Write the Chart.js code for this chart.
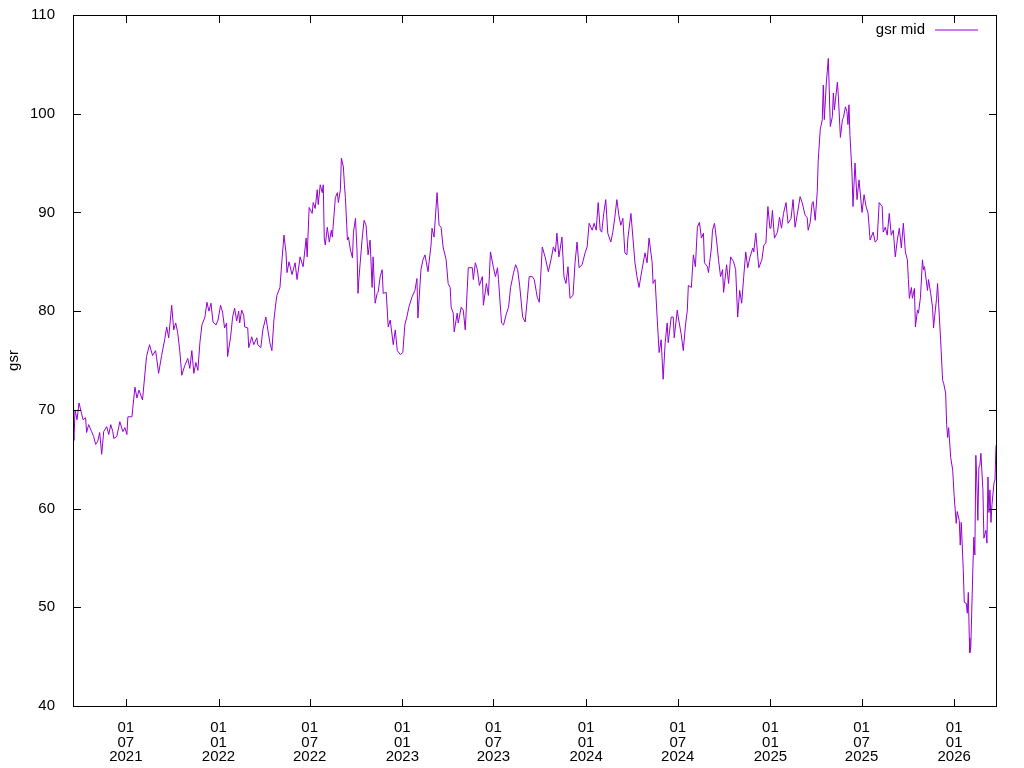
<!DOCTYPE html>
<html>
<head>
<meta charset="utf-8">
<script src="https://cdn.jsdelivr.net/npm/chart.js@4.4.1/dist/chart.umd.min.js"></script>
<style>
  html, body { margin: 0; padding: 0; background: #fff; }
  canvas { display: block; }
</style>
</head>
<body>
<canvas id="gsrChart" width="1024" height="768"></canvas>
<script>
// --- data ---
const dates = [
  '2021-03-18','2021-03-20','2021-03-22','2021-03-26','2021-03-30','2021-04-07','2021-04-12','2021-04-14','2021-04-18','2021-04-24','2021-04-28',
  '2021-05-02','2021-05-06','2021-05-10','2021-05-14','2021-05-18','2021-05-24','2021-05-28','2021-06-01','2021-06-05','2021-06-07','2021-06-13',
  '2021-06-19','2021-06-25','2021-06-29','2021-07-03','2021-07-05','2021-07-13','2021-07-19','2021-07-23','2021-07-27','2021-08-03','2021-08-11',
  '2021-08-17','2021-08-23','2021-08-29','2021-08-31','2021-09-04','2021-09-10','2021-09-16','2021-09-20','2021-09-24','2021-09-30','2021-10-04',
  '2021-10-08','2021-10-12','2021-10-16','2021-10-20','2021-10-26','2021-11-01','2021-11-05','2021-11-09','2021-11-13','2021-11-17','2021-11-21',
  '2021-11-25','2021-11-29','2021-12-05','2021-12-09','2021-12-13','2021-12-17','2021-12-21','2021-12-27','2021-12-31',
  '2022-01-05','2022-01-09','2022-01-13','2022-01-17','2022-01-19','2022-01-25','2022-01-29','2022-02-02','2022-02-06','2022-02-10','2022-02-12',
  '2022-02-16','2022-02-20','2022-02-22','2022-02-28','2022-03-02','2022-03-08','2022-03-12','2022-03-18','2022-03-20','2022-03-26','2022-03-30',
  '2022-04-05','2022-04-09','2022-04-13','2022-04-17','2022-04-21','2022-04-25','2022-04-27','2022-05-03','2022-05-07','2022-05-11','2022-05-15',
  '2022-05-17','2022-05-21','2022-05-27','2022-06-02','2022-06-06','2022-06-12','2022-06-18','2022-06-24','2022-06-26','2022-06-30','2022-07-06',
  '2022-07-08','2022-07-12','2022-07-16','2022-07-18','2022-07-22','2022-07-26','2022-07-28','2022-07-30','2022-08-01','2022-08-05','2022-08-09',
  '2022-08-13','2022-08-15','2022-08-21','2022-08-25','2022-08-27','2022-08-31','2022-09-02','2022-09-06','2022-09-08','2022-09-10','2022-09-14',
  '2022-09-16','2022-09-20','2022-09-24','2022-09-26','2022-09-30','2022-10-03','2022-10-05','2022-10-07','2022-10-13','2022-10-17','2022-10-21',
  '2022-10-25','2022-10-29','2022-11-02','2022-11-04','2022-11-08','2022-11-12','2022-11-14','2022-11-18','2022-11-22','2022-11-24','2022-11-30',
  '2022-12-04','2022-12-08','2022-12-14','2022-12-18','2022-12-22','2022-12-28',
  '2023-01-02','2023-01-06','2023-01-10','2023-01-14','2023-01-20','2023-01-26','2023-01-30','2023-02-01','2023-02-07','2023-02-11','2023-02-15',
  '2023-02-21','2023-02-27','2023-03-01','2023-03-05','2023-03-11','2023-03-15','2023-03-19','2023-03-23','2023-03-29','2023-04-02','2023-04-06',
  '2023-04-08','2023-04-12','2023-04-14','2023-04-20','2023-04-22','2023-04-28','2023-05-02','2023-05-06','2023-05-12','2023-05-20','2023-05-22',
  '2023-05-26','2023-05-30','2023-06-03','2023-06-09','2023-06-11','2023-06-17','2023-06-21','2023-06-25','2023-07-01','2023-07-05','2023-07-09',
  '2023-07-11','2023-07-17','2023-07-21','2023-07-27','2023-07-31','2023-08-04','2023-08-10','2023-08-14','2023-08-18','2023-08-22','2023-08-28',
  '2023-09-02','2023-09-06','2023-09-10','2023-09-16','2023-09-20','2023-09-24','2023-09-26','2023-09-30','2023-10-06','2023-10-12','2023-10-18',
  '2023-10-24','2023-10-28','2023-11-01','2023-11-04','2023-11-08','2023-11-14','2023-11-18','2023-11-22','2023-11-26','2023-11-30','2023-12-06',
  '2023-12-10','2023-12-14','2023-12-18','2023-12-24','2023-12-30',
  '2024-01-03','2024-01-07','2024-01-13','2024-01-17','2024-01-21','2024-01-25','2024-01-29','2024-02-01','2024-02-05','2024-02-09','2024-02-13',
  '2024-02-19','2024-02-23','2024-02-27','2024-03-02','2024-03-06','2024-03-10','2024-03-14','2024-03-18','2024-03-22','2024-03-24','2024-03-30',
  '2024-04-03','2024-04-07','2024-04-11','2024-04-15','2024-04-21','2024-04-27','2024-05-01','2024-05-05','2024-05-11','2024-05-13','2024-05-17',
  '2024-05-21','2024-05-25','2024-05-29','2024-06-02','2024-06-06','2024-06-10','2024-06-12','2024-06-18','2024-06-22','2024-06-24','2024-06-30',
  '2024-07-02','2024-07-08','2024-07-12','2024-07-16','2024-07-20','2024-07-22','2024-07-28','2024-08-01','2024-08-05','2024-08-09','2024-08-13',
  '2024-08-17','2024-08-21','2024-08-23','2024-08-29','2024-08-31','2024-09-06','2024-09-08','2024-09-12','2024-09-16','2024-09-20','2024-09-24',
  '2024-09-28','2024-09-30','2024-10-06','2024-10-10','2024-10-14','2024-10-20','2024-10-24','2024-10-28','2024-11-01','2024-11-05','2024-11-09',
  '2024-11-13','2024-11-17','2024-11-21','2024-11-27','2024-11-29','2024-12-03','2024-12-07','2024-12-09','2024-12-15','2024-12-19','2024-12-23',
  '2024-12-27','2024-12-31',
  '2025-01-02','2025-01-05','2025-01-09','2025-01-15','2025-01-19','2025-01-23','2025-01-27','2025-02-01','2025-02-05','2025-02-11','2025-02-15',
  '2025-02-19','2025-02-23','2025-03-01','2025-03-05','2025-03-11','2025-03-15','2025-03-17','2025-03-21','2025-03-25','2025-03-27','2025-03-31',
  '2025-04-04','2025-04-06','2025-04-10','2025-04-14','2025-04-16','2025-04-18','2025-04-22','2025-04-26','2025-04-30','2025-05-04','2025-05-06',
  '2025-05-08','2025-05-14','2025-05-16','2025-05-20','2025-05-24','2025-05-26','2025-05-30','2025-06-02','2025-06-04','2025-06-06','2025-06-08',
  '2025-06-12','2025-06-14','2025-06-18','2025-06-22','2025-06-26','2025-07-02','2025-07-06','2025-07-10','2025-07-14','2025-07-18','2025-07-24',
  '2025-07-28','2025-08-01','2025-08-05','2025-08-11','2025-08-13','2025-08-17','2025-08-21','2025-08-25','2025-08-29','2025-09-02','2025-09-06',
  '2025-09-10','2025-09-14','2025-09-18','2025-09-22','2025-09-26','2025-09-30','2025-10-02','2025-10-04','2025-10-08','2025-10-10','2025-10-14',
  '2025-10-16','2025-10-20','2025-10-22','2025-10-26','2025-10-30','2025-11-01','2025-11-03','2025-11-09','2025-11-11','2025-11-15','2025-11-19',
  '2025-11-21','2025-11-23','2025-11-27','2025-11-29','2025-12-01','2025-12-05','2025-12-09','2025-12-11','2025-12-15','2025-12-17','2025-12-19',
  '2025-12-21','2025-12-25','2025-12-29',
  '2026-01-01','2026-01-05','2026-01-07','2026-01-11','2026-01-13','2026-01-15','2026-01-19','2026-01-21','2026-01-25','2026-01-27','2026-01-29',
  '2026-01-31','2026-02-01','2026-02-03','2026-02-07','2026-02-09','2026-02-11','2026-02-13','2026-02-15','2026-02-17','2026-02-19','2026-02-21',
  '2026-02-23','2026-02-27','2026-03-01','2026-03-05','2026-03-07','2026-03-09','2026-03-11','2026-03-13','2026-03-15','2026-03-17','2026-03-21',
  '2026-03-23','2026-03-25'
];

const gsrMid = [
  68.2,66.9,70.0,69.0,70.7,69.0,69.2,67.7,68.5,67.8,67.3,
  66.5,66.8,67.7,65.5,67.8,68.3,67.5,68.5,67.8,67.1,67.3,
  68.8,67.8,68.2,67.5,69.3,69.3,72.3,71.2,72.0,71.0,75.4,
  76.6,75.5,76.0,75.3,73.7,75.5,77.1,78.4,77.3,80.6,78.1,
  78.8,77.8,76.0,73.5,74.5,75.2,74.2,76.0,73.7,74.8,74.0,
  76.8,78.6,79.4,80.9,80.0,80.8,78.9,78.6,79.1,
  80.6,79.9,78.3,78.8,75.4,77.4,79.4,80.3,79.0,80.0,78.8,
  80.1,79.6,78.4,78.3,76.3,77.4,76.6,77.3,76.6,76.3,78.1,
  79.4,78.1,76.8,76.0,79.1,80.9,81.6,82.4,85.2,87.7,85.9,
  83.9,85.0,83.7,84.9,83.2,85.5,84.5,87.4,85.5,90.5,89.9,
  91.0,90.4,92.3,90.8,92.8,92.0,92.8,87.4,86.7,88.5,87.0,
  88.2,87.5,91.5,92.0,91.0,92.3,95.5,94.6,92.8,91.5,87.2,
  87.5,86.2,85.4,88.0,89.4,86.2,81.8,83.4,87.2,89.2,88.7,
  85.7,87.2,82.4,85.5,80.8,81.8,81.9,83.5,84.2,81.8,81.9,
  78.4,79.1,76.6,78.1,76.0,75.6,
  75.8,78.6,79.4,80.4,81.4,82.1,83.3,79.3,84.2,85.2,85.7,
  84.0,86.7,88.4,87.5,92.0,88.7,88.5,86.5,85.2,82.8,82.4,
  80.4,79.8,77.9,79.8,78.8,80.4,80.1,78.1,84.4,84.4,83.2,
  84.9,84.2,82.6,83.5,80.6,82.8,81.6,86.0,84.4,83.5,84.4,
  83.2,78.8,78.6,79.8,80.4,82.4,83.9,84.7,84.2,82.6,79.4,
  78.9,81.1,83.5,83.5,83.2,82.0,81.4,80.9,86.5,85.4,84.0,
  85.4,86.5,86.0,87.9,85.5,87.5,83.5,82.8,84.5,81.3,81.6,
  84.9,87.0,84.4,84.7,85.9,
  86.5,88.9,88.2,88.9,88.2,91.0,88.2,88.0,89.9,91.3,87.9,
  87.0,88.0,89.5,91.3,89.7,88.7,89.4,85.9,85.7,87.4,89.9,
  87.4,84.9,83.5,82.4,84.2,85.9,84.9,87.4,85.0,82.8,83.2,
  79.4,75.8,77.1,73.1,76.8,78.8,76.8,79.4,79.4,77.3,80.1,
  79.4,77.6,76.0,78.4,80.1,82.6,82.4,85.7,84.5,88.5,89.0,
  87.4,87.9,84.9,84.5,83.9,86.5,88.2,88.9,87.2,85.2,83.5,
  84.2,81.9,84.7,82.8,85.5,85.0,84.2,79.4,82.1,80.8,83.5,
  86.0,84.4,85.4,86.4,86.0,87.9,85.5,84.4,85.2,86.7,86.9,
  90.6,88.4,
  88.4,90.2,87.4,88.0,89.5,88.4,89.9,91.0,88.9,89.4,91.3,
  88.5,89.7,91.6,91.0,89.7,89.5,88.2,89.0,91.0,91.1,89.2,
  92.1,95.3,98.4,99.4,102.9,99.4,103.1,105.6,98.7,99.7,102.1,
  100.4,103.2,101.7,97.6,99.4,99.6,100.7,100.2,98.9,100.9,97.8,
  94.0,90.6,95.0,91.3,93.3,90.0,91.8,90.6,89.9,87.2,88.0,
  87.0,87.2,91.0,90.6,88.0,88.5,87.7,89.9,87.7,88.2,85.5,
  87.2,88.4,86.4,88.9,86.0,85.2,83.2,81.3,82.4,81.3,82.3,
  78.4,80.1,79.8,81.4,85.2,84.2,84.5,82.1,83.2,81.9,80.4,
  78.3,79.4,81.3,82.8,80.8,77.1,73.0,72.7,71.7,68.5,67.2,
  68.2,65.2,63.9,
  61.2,58.5,59.7,58.8,56.3,58.6,53.8,50.5,50.4,49.4,51.5,
  46.9,45.4,46.0,53.8,57.1,55.3,65.4,62.6,58.8,64.2,64.4,
  65.6,61.9,57.0,57.8,56.5,63.2,59.6,61.9,58.6,60.4,62.6,
  62.9,66.4
];

const tickDates = ['2021-07-01','2022-01-01','2022-07-01','2023-01-01','2023-07-01',
                   '2024-01-01','2024-07-01','2025-01-01','2025-07-01','2026-01-01'];
const xStart = '2021-03-18';
const xEnd = '2026-03-25';
const yMin = 40, yMax = 110, yStep = 10;
const seriesLabel = 'gsr mid';
const yTitle = 'gsr';

// --- helpers ---
const toDay = s => { const p = s.split('-'); return Date.UTC(+p[0], +p[1] - 1, +p[2]) / 86400000; };
const pad2 = n => String(n).padStart(2, '0');
const lineColor = '#9400d3';
const fontFamily = "'Liberation Sans', Arial, sans-serif";
const fontSize = 15;

// gnuplot style frame, inward ticks on all four sides, and the key
const gnuplotFrame = {
  id: 'gnuplotFrame',
  afterDatasetsDraw(chart) {
    const { ctx, chartArea: a, scales: { x, y } } = chart;
    const tl = 8;
    ctx.save();
    ctx.strokeStyle = '#000';
    ctx.lineWidth = 1;
    ctx.beginPath();
    ctx.rect(a.left + 0.5, a.top + 0.5, a.right - a.left, a.bottom - a.top);
    y.ticks.forEach(t => {
      const py = Math.round(y.getPixelForValue(t.value)) + 0.5;
      ctx.moveTo(a.left, py); ctx.lineTo(a.left + tl, py);
      ctx.moveTo(a.right + 1, py); ctx.lineTo(a.right + 1 - tl, py);
    });
    x.ticks.forEach(t => {
      const px = Math.round(x.getPixelForValue(t.value)) + 0.5;
      ctx.moveTo(px, a.bottom + 1); ctx.lineTo(px, a.bottom + 1 - tl);
      ctx.moveTo(px, a.top); ctx.lineTo(px, a.top + tl);
    });
    ctx.stroke();

    // key, top right
    const ky = a.top + 14.5;
    ctx.font = fontSize + 'px ' + fontFamily;
    ctx.fillStyle = '#000';
    ctx.textAlign = 'right';
    ctx.textBaseline = 'middle';
    ctx.fillText(chart.data.datasets[0].label, a.right - 71, ky);
    ctx.strokeStyle = lineColor;
    ctx.beginPath();
    ctx.moveTo(a.right - 61, ky + 0.5);
    ctx.lineTo(a.right - 18, ky + 0.5);
    ctx.stroke();
    ctx.restore();
  }
};

const ctx = document.getElementById('gsrChart').getContext('2d');
new Chart(ctx, {
  type: 'line',
  data: {
    datasets: [{
      label: seriesLabel,
      data: dates.map((d, i) => ({ x: toDay(d), y: gsrMid[i] })),
      borderColor: lineColor,
      borderWidth: 1,
      pointRadius: 0,
      tension: 0,
      fill: false
    }]
  },
  options: {
    responsive: false,
    animation: false,
    events: [],
    layout: { padding: { top: 15, right: 28, left: 0, bottom: 0 } },
    plugins: {
      legend: { display: false },
      tooltip: { enabled: false }
    },
    scales: {
      x: {
        type: 'linear',
        min: toDay(xStart),
        max: toDay(xEnd),
        grid: { display: false },
        border: { display: false },
        afterBuildTicks: s => { s.ticks = tickDates.map(d => ({ value: toDay(d) })); },
        afterFit: s => { s.height = 62; s.paddingLeft = 0; s.paddingRight = 0; },
        ticks: {
          autoSkip: false,
          maxRotation: 0,
          padding: 7,
          color: '#000',
          font: { family: fontFamily, size: fontSize, lineHeight: 14.5 / fontSize },
          callback: v => {
            const d = new Date(v * 86400000);
            return [pad2(d.getUTCDate()), pad2(d.getUTCMonth() + 1), String(d.getUTCFullYear())];
          }
        }
      },
      y: {
        min: yMin,
        max: yMax,
        grid: { display: false },
        border: { display: false },
        afterFit: s => { s.width = 73; s.paddingTop = 0; s.paddingBottom = 0; },
        ticks: {
          stepSize: yStep,
          padding: 10,
          color: '#000',
          font: { family: fontFamily, size: fontSize }
        },
        title: {
          display: true,
          text: yTitle,
          color: '#000',
          padding: { top: 5, bottom: 0 },
          font: { family: fontFamily, size: fontSize }
        }
      }
    }
  },
  plugins: [gnuplotFrame]
});
</script>
</body>
</html>
